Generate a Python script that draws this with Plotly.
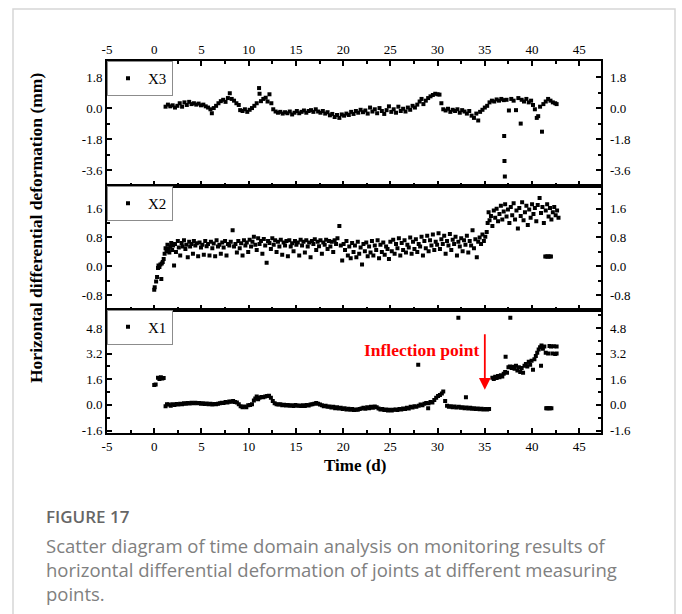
import plotly.graph_objects as go

# ---------------- data ----------------
x_tick_vals = [-5, 0, 5, 10, 15, 20, 25, 30, 35, 40, 45]
x_tick_text = ["-5", "0", "5", "10", "15", "20", "25", "30", "35", "40", "45"]

y3_tick_vals = [1.8, 0.0, -1.8, -3.6]
y3_tick_text = ["1.8", "0.0", "-1.8", "-3.6"]
y2_tick_vals = [1.6, 0.8, 0.0, -0.8]
y2_tick_text = ["1.6", "0.8", "0.0", "-0.8"]
y1_tick_vals = [4.8, 3.2, 1.6, 0.0, -1.6]
y1_tick_text = ["4.8", "3.2", "1.6", "0.0", "-1.6"]

t_x3 = [1.2, 1.45, 1.7, 1.95, 2.2, 2.45, 2.7, 2.95, 3.2, 3.45, 3.7, 3.95, 4.2, 4.45, 4.7, 4.95,
        5.2, 5.45, 5.7, 5.95, 6.1, 6.3, 6.55, 6.8, 7.05, 7.3, 7.55, 7.8, 8.0, 8.2, 8.45, 8.7,
        8.95, 9.1, 9.35, 9.6, 9.85, 10.1, 10.35, 10.6, 10.85, 11.1, 11.15, 11.3, 11.55, 11.8,
        12.0, 12.2, 12.4, 12.6, 12.85, 13.1, 13.35, 13.6, 13.85, 14.1, 14.35, 14.6, 14.85,
        15.1, 15.35, 15.6, 15.85, 16.1, 16.35, 16.6, 16.85, 17.1, 17.35, 17.6, 17.85, 18.1,
        18.35, 18.6, 18.85, 19.1, 19.35, 19.6, 19.85, 20.1, 20.35, 20.6, 20.85, 21.1, 21.35,
        21.6, 21.85, 22.1, 22.35, 22.6, 22.85, 23.1, 23.35, 23.6, 23.85, 24.1, 24.35, 24.6,
        24.85, 25.1, 25.35, 25.6, 25.85, 26.1, 26.35, 26.6, 26.85, 27.1, 27.35, 27.6, 27.85,
        28.1, 28.3, 28.5, 28.75, 29.0, 29.25, 29.5, 29.75, 30.0, 30.2, 30.4, 30.6, 30.85,
        31.1, 31.35, 31.6, 31.85, 32.1, 32.35, 32.6, 32.85, 33.1, 33.35, 33.6, 33.85, 34.1,
        34.3, 34.5, 34.75, 35.0, 35.25, 35.5, 35.75, 36.0, 36.25, 36.5, 36.75, 37.0, 37.05,
        37.08, 37.12, 37.3, 37.55, 37.8, 38.05, 38.3, 38.55, 38.8, 38.9, 39.15, 39.4, 39.65,
        39.9, 40.1, 40.3, 40.5, 40.65, 40.85, 41.05, 41.2, 41.45, 41.7, 41.95, 42.2, 42.45, 42.6]
v_x3 = [0.10, 0.22, 0.12, 0.18, 0.05, 0.15, 0.30, 0.10, 0.35, 0.20, 0.38, 0.25, 0.30, 0.22, 0.28, 0.18,
        0.22, 0.12, 0.05, -0.05, -0.28, 0.02, 0.15, 0.30, 0.42, 0.50, 0.38, 0.60, 0.88, 0.55, 0.45, 0.30,
        0.20, -0.10, -0.15, -0.05, -0.20, -0.08, 0.02, 0.15, 0.30, 1.18, 0.85, 0.42, 0.55, 0.62,
        0.40, 0.82, 0.30, -0.05, -0.18, -0.25, -0.20, -0.30, -0.22, -0.28, -0.18, -0.35, -0.25,
        -0.15, -0.28, -0.20, -0.12, -0.25, -0.15, -0.10, -0.20, -0.05, -0.18, -0.25, -0.15, -0.30,
        -0.22, -0.40, -0.32, -0.50, -0.38, -0.55, -0.35, -0.42, -0.30, -0.38, -0.20, -0.32, -0.15,
        -0.25, -0.08, -0.22, -0.12, -0.30, 0.05, -0.18, -0.05, -0.28, 0.02, -0.15, -0.32, -0.10,
        0.12, -0.20, -0.05, -0.25, 0.10, -0.15, -0.02, -0.18, 0.05, -0.08, 0.15, 0.05, 0.22,
        0.40, 0.55, 0.25, 0.45, 0.60, 0.70, 0.78, 0.85, 0.82, 0.80, 0.30, -0.05, -0.12,
        -0.02, -0.20, -0.08, -0.15, -0.05, -0.25, -0.10, -0.18, -0.30, -0.15, -0.42, -0.55, -0.30,
        -0.70, -0.20, -0.08, 0.05, 0.15, 0.35, 0.45, 0.40, 0.52, 0.45, 0.55, 0.48, -1.60,
        -3.05, -3.95, 0.50, -0.12, 0.55, 0.45, -0.10, 0.60, -0.88, 0.50, 0.40, 0.55, 0.35,
        0.45, 0.20, -0.05, -0.55, -0.45, 0.10, -1.35, 0.25, 0.40, 0.55, 0.45, 0.35, 0.30, 0.25]

t_x2 = [0.0, 0.05, 0.2, 0.3, 0.4, 0.45, 0.55, 0.65, 0.75, 0.8, 0.9, 1.0, 1.1, 1.2, 1.3, 1.4, 1.5,
        1.6, 1.7, 1.8, 1.9, 2.0, 2.1, 2.2, 2.3, 2.5, 2.6, 2.75, 2.9, 3.0, 3.15, 3.3, 3.4, 3.55,
        3.7, 3.8, 3.95, 4.1, 4.2, 4.35, 4.5, 4.65, 4.8, 4.95, 5.1, 5.25, 5.4, 5.55, 5.7, 5.85,
        6.0, 6.15, 6.3, 6.45, 6.6, 6.75, 6.9, 7.05, 7.2, 7.35, 7.5, 7.65, 7.8, 7.95, 8.1, 8.3,
        8.45, 8.6, 8.75, 8.9, 9.05, 9.2, 9.35, 9.5, 9.65, 9.8, 9.95, 10.1, 10.25, 10.4, 10.55,
        10.7, 10.85, 11.0, 11.15, 11.3, 11.45, 11.6, 11.75, 11.9, 12.05, 12.2, 12.35, 12.5,
        12.65, 12.8, 12.95, 13.1, 13.25, 13.4, 13.55, 13.7, 13.85, 14.0, 14.15, 14.3, 14.45,
        14.6, 14.75, 14.9, 15.05, 15.2, 15.35, 15.5, 15.65, 15.8, 15.95, 16.1, 16.25, 16.4,
        16.55, 16.7, 16.85, 17.0, 17.15, 17.3, 17.45, 17.6, 17.75, 17.9, 18.05, 18.2, 18.35,
        18.5, 18.65, 18.8, 18.95, 19.1, 19.25, 19.4, 19.6, 19.75, 19.9, 20.05, 20.2, 20.35,
        20.5, 20.65, 20.8, 20.95, 21.1, 21.25, 21.4, 21.55, 21.7, 21.85, 22.0, 22.15, 22.3,
        22.45, 22.6, 22.75, 22.9, 23.05, 23.2, 23.35, 23.5, 23.65, 23.8, 23.95, 24.1, 24.25,
        24.4, 24.55, 24.7, 24.85, 25.0, 25.15, 25.3, 25.45, 25.6, 25.75, 25.9, 26.05, 26.2,
        26.35, 26.5, 26.65, 26.8, 26.95, 27.1, 27.25, 27.4, 27.55, 27.7, 27.85, 28.0, 28.15,
        28.3, 28.45, 28.6, 28.75, 28.9, 29.05, 29.2, 29.35, 29.5, 29.65, 29.8, 29.95, 30.1,
        30.25, 30.4, 30.55, 30.7, 30.85, 31.0, 31.15, 31.3, 31.45, 31.6, 31.75, 31.9, 32.05,
        32.2, 32.35, 32.5, 32.65, 32.8, 32.95, 33.1, 33.25, 33.4, 33.55, 33.7, 33.85, 34.0,
        34.15, 34.3, 34.45, 34.6, 34.75, 34.9, 35.05, 35.2, 35.3, 35.4, 35.5, 35.65, 35.8,
        35.95, 36.1, 36.25, 36.4, 36.55, 36.7, 36.85, 37.0, 37.15, 37.3, 37.45, 37.6, 37.75,
        37.9, 38.05, 38.2, 38.35, 38.5, 38.65, 38.8, 38.95, 39.1, 39.25, 39.4, 39.55, 39.7,
        39.85, 40.0, 40.15, 40.3, 40.45, 40.6, 40.8, 40.95, 41.1, 41.25, 41.4, 41.55, 41.7,
        41.85, 42.0, 41.45, 41.6, 41.75, 41.9, 42.05, 42.2, 42.35, 42.5, 42.65, 42.8]
v_x2 = [-0.65, -0.58, -0.42, -0.30, -0.05, 0.02, -0.02, 0.05, -0.35, 0.08, 0.12, 0.20, 0.35, 0.50, 0.42, 0.60, 0.48,
        0.38, 0.55, 0.65, 0.45, 0.58, 0.02, 0.62, 0.40, 0.70, 0.52, 0.30, 0.65, 0.55, 0.72, 0.48, 0.60, 0.25,
        0.68, 0.55, 0.62, 0.35, 0.70, 0.58, 0.64, 0.28, 0.66, 0.52, 0.60, 0.32, 0.70, 0.56, 0.62, 0.30,
        0.68, 0.50, 0.63, 0.28, 0.72, 0.55, 0.60, 0.35, 0.66, 0.52, 0.70, 0.30, 0.62, 0.58, 0.68, 1.00,
        0.55, 0.62, 0.38, 0.70, 0.50, 0.64, 0.30, 0.72, 0.58, 0.66, 0.40, 0.74, 0.55, 0.68, 0.82,
        0.60, 0.45, 0.78, 0.62, 0.70, 0.35, 0.76, 0.58, 0.10, 0.70, 0.65, 0.48, 0.78,
        0.60, 0.72, 0.40, 0.68, 0.55, 0.74, 0.32, 0.66, 0.58, 0.70, 0.28, 0.72, 0.55,
        0.64, 0.42, 0.70, 0.60, 0.66, 0.30, 0.74, 0.58, 0.68, 0.38, 0.72, 0.55, 0.66,
        0.25, 0.70, 0.62, 0.75, 0.45, 0.68, 0.56, 0.72, 0.35, 0.66, 0.60, 0.74, 0.48,
        0.70, 0.55, 0.68, 0.40, 0.72, 0.62, 0.78, 1.12, 0.58, 0.16, 0.62, 0.45, 0.70,
        0.30, 0.55, 0.22, 0.65, 0.40, 0.58, 0.25, 0.68, 0.35, 0.52, 0.05, 0.62, 0.42,
        0.66, 0.28, 0.55, 0.38, 0.70, 0.30, 0.58, 0.45, 0.72, 0.22, 0.60, 0.40, 0.66,
        0.32, 0.55, 0.48, 0.20, 0.68, 0.42, 0.74, 0.35, 0.62, 0.50, 0.78, 0.30, 0.65,
        0.45, 0.72, 0.38, 0.60, 0.52, 0.80, 0.35, 0.68, 0.48, 0.75, 0.40, 0.62, 0.55,
        0.82, 0.30, 0.70, 0.50, 0.85, 0.42, 0.72, 0.58, 0.88, 0.45, 0.68, 0.60, 0.92,
        0.48, 0.75, 0.62, 0.85, 0.35, 0.70, 0.58, 0.90, 0.45, 0.74, 0.62, 0.82, 0.30,
        0.68, 0.55, 0.78, 0.42, 0.72, 0.60, 0.85, 0.38, 0.70, 0.58, 1.00, 0.50, 0.75,
        0.25, 0.68, 0.80, 0.62, 0.88, 0.70, 0.82, 0.95, 1.20, 1.50, 1.28, 1.40, 1.12,
        1.55, 1.35, 1.60, 1.25, 1.45, 1.68, 1.30, 1.52, 1.72, 1.38, 1.58, 1.20, 1.65,
        1.42, 1.75, 1.30, 1.55, 1.05, 1.62, 1.40, 1.78, 1.28, 1.50, 1.68, 1.15, 1.58,
        1.35, 1.72, 1.45, 1.62, 1.25, 1.70, 1.90, 1.48, 1.65, 1.20, 0.27, 0.27, 0.27,
        0.27, 0.27, 1.55, 1.72, 1.38, 1.62, 1.30, 1.50, 1.65, 1.42, 1.55, 1.35]

t_x1 = [0.0, 0.15, 0.4, 0.55, 0.7, 0.85, 1.0, 1.2, 1.35, 1.55, 1.75, 1.95, 2.15, 2.35, 2.55, 2.75,
        2.95, 3.15, 3.35, 3.55, 3.75, 3.95, 4.15, 4.35, 4.55, 4.75, 4.95, 5.15, 5.35, 5.55, 5.75,
        5.95, 6.15, 6.35, 6.55, 6.75, 6.95, 7.15, 7.35, 7.55, 7.75, 7.95, 8.15, 8.35, 8.55, 8.75,
        8.95, 9.15, 9.35, 9.55, 9.75, 9.95, 10.15, 10.35, 10.55, 10.7, 10.85, 11.0, 11.15, 11.35,
        11.55, 11.75, 11.95, 12.15, 12.35, 12.55, 12.75, 12.95, 13.15, 13.35, 13.55, 13.75, 13.95,
        14.15, 14.35, 14.55, 14.75, 14.95, 15.15, 15.35, 15.55, 15.75, 15.95, 16.15, 16.35, 16.55,
        16.75, 16.95, 17.15, 17.35, 17.55, 17.75, 17.95, 18.15, 18.35, 18.55, 18.75, 18.95, 19.15,
        19.35, 19.55, 19.75, 19.95, 20.15, 20.35, 20.55, 20.75, 20.95, 21.15, 21.35, 21.55, 21.75,
        21.95, 22.15, 22.35, 22.55, 22.75, 22.95, 23.15, 23.35, 23.55, 23.75, 23.95, 24.15, 24.35,
        24.55, 24.75, 24.95, 25.15, 25.35, 25.55, 25.75, 25.95, 26.15, 26.35, 26.55, 26.75, 26.95,
        27.15, 27.35, 27.55, 27.75, 27.95, 28.0, 28.2, 28.4, 28.6, 28.8, 29.0, 29.05, 29.25, 29.45,
        29.65, 29.85, 30.05, 30.25, 30.45, 30.6, 30.8, 31.0, 31.2, 31.4, 31.6, 31.8, 32.0, 32.2,
        32.25, 32.45, 32.65, 32.85, 33.0, 33.05, 33.25, 33.45, 33.65, 33.85, 34.05, 34.25, 34.45,
        34.65, 34.85, 35.05, 35.25, 35.45, 35.8, 35.95, 36.1, 36.25, 36.4, 36.55, 36.7, 36.85,
        37.0, 37.15, 37.2, 37.35, 37.5, 37.65, 37.7, 37.85, 38.0, 38.15, 38.3, 38.45, 38.6, 38.75,
        38.9, 39.05, 39.2, 39.35, 39.5, 39.65, 39.8, 39.95, 40.1, 40.25, 40.4, 40.55, 40.7, 40.85,
        40.95, 41.0, 41.15, 41.3, 41.45, 41.5, 41.6, 41.7, 41.75, 41.85, 41.9, 42.0, 42.05, 42.15,
        42.3, 42.45, 42.6, 42.6]
v_x1 = [1.25, 1.28, 1.70, 1.62, 1.72, 1.65, 1.68, -0.08, 0.05, 0.02, -0.05, 0.04, 0.00, 0.06, 0.03, 0.08,
        0.05, 0.10, 0.07, 0.12, 0.09, 0.13, 0.10, 0.14, 0.11, 0.12, 0.08, 0.10, 0.06, 0.09, 0.05,
        0.07, 0.03, 0.06, 0.04, 0.08, 0.10, 0.14, 0.12, 0.18, 0.15, 0.22, 0.20, 0.25, 0.18, 0.15,
        0.05, -0.08, -0.15, -0.10, -0.14, -0.02, 0.00, 0.05, 0.28, 0.40, 0.52, 0.36, 0.45, 0.50,
        0.48, 0.52, 0.55, 0.58, 0.45, 0.25, 0.10, 0.05, 0.02, 0.04, -0.02, 0.01, -0.04,
        0.00, -0.05, -0.02, -0.06, -0.01, -0.05, -0.03, -0.07, -0.02, -0.06, 0.00, -0.04, 0.02,
        0.05, 0.08, 0.12, 0.08, 0.03, -0.02, -0.08, -0.05, -0.12, -0.10, -0.16, -0.12, -0.20,
        -0.14, -0.22, -0.18, -0.25, -0.20, -0.28, -0.24, -0.30, -0.26, -0.32, -0.28, -0.30, -0.25,
        -0.22, -0.18, -0.24, -0.15, -0.20, -0.12, -0.18, -0.10, -0.15, -0.22, -0.28, -0.25, -0.32,
        -0.28, -0.34, -0.30, -0.35, -0.30, -0.28, -0.32, -0.25, -0.28, -0.22, -0.26, -0.18, -0.22,
        -0.12, -0.16, -0.08, -0.12, 2.50, -0.05, 0.02, -0.02, 0.08, 0.12, -0.20, 0.10, 0.18, 0.15,
        0.30, 0.45, 0.55, 0.62, 0.72, 0.84, 0.25, -0.05, -0.12, -0.08, -0.15, -0.10, -0.16, 5.43,
        -0.12, -0.18, -0.14, -0.20, 0.48, -0.16, -0.22, -0.18, -0.24, -0.20, -0.25, -0.22, -0.27,
        -0.24, -0.28, -0.25, -0.28, -0.26, 1.70, 1.62, 1.75, 1.68, 1.80, 1.72, 1.85, 1.78,
        1.95, 2.05, 3.00, 2.00, 2.35, 2.40, 5.43, 2.30, 2.38, 2.25, 2.45, 2.15, 2.35, 2.05,
        2.30, 2.00, 2.45, 2.55, 2.40, 2.70, 2.50, 2.75, 2.20, 2.85, 3.05, 3.25, 3.45, 3.60,
        2.45, 3.70, 3.50, 3.65, 3.25, -0.20, -0.20, 3.20, -0.21, 3.68, -0.20, 3.65, -0.21, 3.20,
        3.66, 3.18, 3.65, 3.20]

series_names = ["X3", "X2", "X1"]

# ---------------- layout helpers ----------------
W, H = 682, 614
ML, MR, MT, MB = 107, 81, 61, 181
PW, PH = W - ML - MR, H - MT - MB


def px2x(px):
    return (px - ML) / PW


def py2y(py):
    return (H - MB - py) / PH


# panel boundaries in pixels
b1 = py2y(186)    # between X3 and X2
b2 = py2y(309.5)  # between X2 and X1

tick_font = dict(family="Liberation Serif", size=13, color="black")
serif = "Liberation Serif"

fig = go.Figure()

marker = dict(symbol="square", size=4, color="black", line=dict(width=0))
fig.add_trace(go.Scatter(x=t_x3, y=v_x3, mode="markers", name=series_names[0], marker=marker,
                         xaxis="x3", yaxis="y3", legend="legend"))
fig.add_trace(go.Scatter(x=t_x2, y=v_x2, mode="markers", name=series_names[1], marker=marker,
                         xaxis="x2", yaxis="y2", legend="legend2"))
fig.add_trace(go.Scatter(x=t_x1, y=v_x1, mode="markers", name=series_names[2], marker=marker,
                         xaxis="x", yaxis="y", legend="legend3"))

xminor = [v + 2.5 for v in x_tick_vals]


def xax(**kw):
    d = dict(range=[-5, 47.3], tickmode="array", tickvals=x_tick_vals, ticktext=x_tick_text,
             ticks="inside", ticklen=5, tickwidth=1.5, tickcolor="black",
             showline=True, linecolor="black", linewidth=2, showgrid=False, zeroline=False,
             minor=dict(tickmode="array", tickvals=xminor, ticks="inside", ticklen=3,
                        tickwidth=1.5, tickcolor="black"),
             tickfont=tick_font, domain=[0, 1])
    d.update(kw)
    return d


def yax(rng, vals, text, minor_vals, dom, anchor, **kw):
    d = dict(range=rng, domain=dom, anchor=anchor, tickmode="array", tickvals=vals, ticktext=text,
             ticks="inside", ticklen=5, tickwidth=1.5, tickcolor="black",
             showline=True, linecolor="black", linewidth=2, mirror="ticks",
             showgrid=False, zeroline=False, tickfont=tick_font,
             minor=dict(tickmode="array", tickvals=minor_vals, ticks="inside", ticklen=3,
                        tickwidth=1.5, tickcolor="black"))
    d.update(kw)
    return d


def yright(rng, vals, text, over, anchor):
    return dict(range=rng, overlaying=over, side="right", anchor=anchor, tickmode="array",
                tickvals=vals, ticktext=text, ticks="", showline=False, showgrid=False,
                zeroline=False, tickfont=tick_font, ticklabelstandoff=8)


r3 = [-4.5, 2.75]
r2 = [-1.2, 2.23]
r1 = [-1.75, 5.95]
m3 = [2.7, 0.9, -0.9, -2.7, -4.5]
m2 = [2.0, 1.2, 0.4, -0.4, -1.2]
m1 = [5.6, 4.0, 2.4, 0.8, -0.8]

legend_common = dict(x=0, xanchor="left", yanchor="top", bgcolor="white",
                     bordercolor="#8c8c8c", borderwidth=1,
                     font=dict(family=serif, size=15, color="black"),
                     itemsizing="trace", tracegroupgap=0)

fig.update_layout(
    width=W, height=H,
    margin=dict(l=ML, r=MR, t=MT, b=MB, pad=0),
    paper_bgcolor="white", plot_bgcolor="white",
    showlegend=True,
    xaxis=xax(anchor="y", side="bottom", mirror=True),
    xaxis2=xax(anchor="y2", side="bottom", mirror=True, showticklabels=False),
    xaxis3=xax(anchor="y3", side="top", mirror="ticks"),
    yaxis=yax(r1, y1_tick_vals, y1_tick_text, m1, [0, b2], "x"),
    yaxis2=yax(r2, y2_tick_vals, y2_tick_text, m2, [b2, b1], "x2"),
    yaxis3=yax(r3, y3_tick_vals, y3_tick_text, m3, [b1, 1], "x3"),
    yaxis4=yright(r1, y1_tick_vals, y1_tick_text, "y", "x"),
    yaxis5=yright(r2, y2_tick_vals, y2_tick_text, "y2", "x2"),
    yaxis6=yright(r3, y3_tick_vals, y3_tick_text, "y3", "x3"),
    legend=dict(y=1, **legend_common),
    legend2=dict(y=b1, **legend_common),
    legend3=dict(y=b2, **legend_common),
)

# invisible traces to activate right axes
fig.add_trace(go.Scatter(x=[None], y=[None], xaxis="x", yaxis="y4", showlegend=False))
fig.add_trace(go.Scatter(x=[None], y=[None], xaxis="x2", yaxis="y5", showlegend=False))
fig.add_trace(go.Scatter(x=[None], y=[None], xaxis="x3", yaxis="y6", showlegend=False))

annotations = [
    dict(text="<b>Horizontal differential deformation (mm)</b>", textangle=-90,
         xref="paper", yref="paper", x=px2x(36), y=py2y(228), xanchor="center", yanchor="middle",
         showarrow=False, font=dict(family=serif, size=17.5, color="black")),
    dict(text="<b>Time (d)</b>", xref="paper", yref="paper", x=px2x(355), y=py2y(466),
         xanchor="center", yanchor="middle", showarrow=False,
         font=dict(family=serif, size=17, color="black")),
    dict(text="<b>Inflection point</b>", xref="paper", yref="paper", x=px2x(421), y=py2y(350),
         xanchor="center", yanchor="middle", showarrow=False,
         font=dict(family=serif, size=17.5, color="#ff0000")),
    dict(text="", xref="x", yref="y", x=35, y=0.95, axref="x", ayref="y", ax=35, ay=4.5,
         showarrow=True, arrowhead=2, arrowsize=1.3, arrowwidth=1.8, arrowcolor="#ff0000"),
    dict(text="FIGURE 17", xref="paper", yref="paper", x=px2x(44), y=py2y(516),
         xanchor="left", yanchor="middle", showarrow=False,
         font=dict(family="Open Sans", size=17, weight=600, color="#666666")),
]
caption_lines = [
    "Scatter diagram of time domain analysis on monitoring results of",
    "horizontal differential deformation of joints at different measuring",
    "points.",
]
for i, line in enumerate(caption_lines):
    annotations.append(dict(text=line, xref="paper", yref="paper", x=px2x(44), y=py2y(545 + 24 * i),
                            xanchor="left", yanchor="middle", showarrow=False,
                            font=dict(family="Open Sans", size=18.5, color="#808080")))
fig.update_layout(annotations=annotations)

fig.add_shape(type="rect", xref="paper", yref="paper", x0=px2x(13), x1=px2x(675),
              y0=py2y(640), y1=py2y(9), line=dict(color="#d6d6d6", width=1.5), layer="below")

fig.write_html("out.html")
